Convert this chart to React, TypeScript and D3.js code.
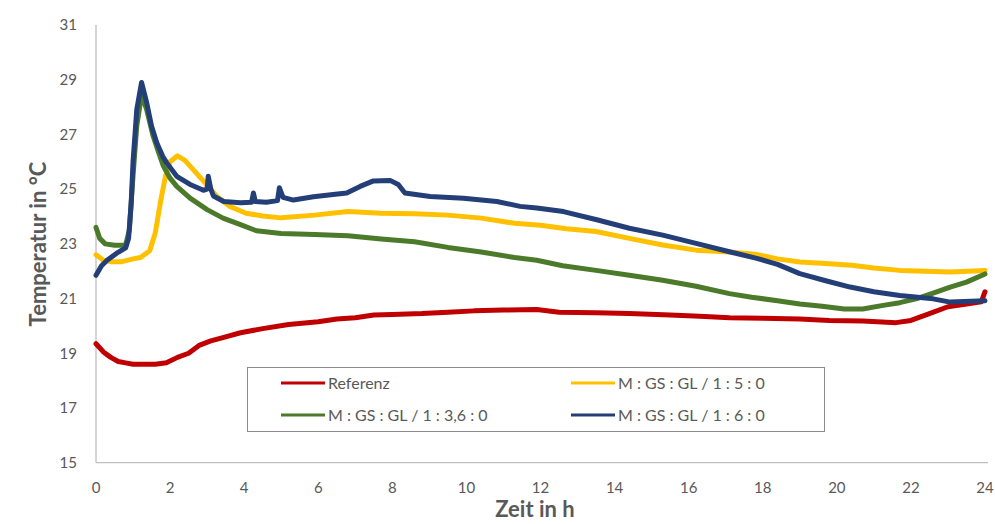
import React from "react";
import * as d3 from "d3";

const xTicks = [0, 2, 4, 6, 8, 10, 12, 14, 16, 18, 20, 22, 24];
const yTicks = [15, 17, 19, 21, 23, 25, 27, 29, 31];

const seriesNames = ["Referenz", "M : GS : GL / 1 : 5 : 0", "M : GS : GL / 1 : 3,6 : 0", "M : GS : GL / 1 : 6 : 0"];
const seriesColors = ["#C00000", "#FFC000", "#4B7A2A", "#243F77"];

const referenz: [number, number][] = [
  [0, 19.35], [0.2, 19.05], [0.4, 18.85], [0.6, 18.7], [0.8, 18.65], [1.0, 18.6], [1.3, 18.6], [1.6, 18.6],
  [1.9, 18.65], [2.2, 18.85], [2.5, 19.0], [2.8, 19.3], [3.1, 19.45], [3.5, 19.6], [3.9, 19.75], [4.5, 19.9],
  [5.2, 20.05], [6.0, 20.15], [6.5, 20.25], [7.0, 20.3], [7.5, 20.4], [8.0, 20.42], [8.8, 20.45], [9.5, 20.5],
  [10.2, 20.55], [11.0, 20.58], [11.9, 20.6], [12.5, 20.5], [13.5, 20.48], [14.4, 20.45], [15.5, 20.4],
  [16.3, 20.35], [17.1, 20.3], [18.0, 20.28], [19.0, 20.25], [19.8, 20.2], [20.7, 20.18], [21.6, 20.12],
  [22.0, 20.2], [22.5, 20.45], [23.0, 20.7], [23.5, 20.8], [23.9, 20.88], [24.0, 21.25],
];

const gs5: [number, number][] = [
  [0, 22.6], [0.2, 22.4], [0.4, 22.35], [0.7, 22.35], [1.0, 22.45], [1.2, 22.5], [1.45, 22.75], [1.6, 23.4],
  [1.75, 24.6], [1.88, 25.5], [2.0, 26.0], [2.2, 26.22], [2.4, 26.05], [2.6, 25.75], [2.8, 25.45], [3.0, 25.15],
  [3.25, 24.75], [3.6, 24.38], [4.05, 24.12], [4.5, 24.02], [5.0, 23.95], [5.9, 24.05], [6.8, 24.18], [7.7, 24.12],
  [8.6, 24.1], [9.5, 24.05], [10.4, 23.94], [11.3, 23.75], [12.0, 23.68], [12.7, 23.55], [13.5, 23.45], [14.4, 23.2],
  [15.3, 22.96], [16.2, 22.77], [17.1, 22.7], [17.8, 22.62], [18.4, 22.45], [19.0, 22.34], [19.7, 22.28],
  [20.4, 22.22], [21.0, 22.12], [21.7, 22.03], [22.4, 22.0], [23.06, 21.97], [24.0, 22.03],
];

const gs36: [number, number][] = [
  [0, 23.6], [0.1, 23.2], [0.25, 23.0], [0.5, 22.95], [0.8, 22.95], [0.9, 23.5], [1.0, 25.5], [1.1, 27.3],
  [1.23, 28.45], [1.37, 27.9], [1.54, 26.95], [1.7, 26.3], [1.82, 25.84], [2.0, 25.4], [2.18, 25.1], [2.54, 24.67],
  [3.0, 24.25], [3.43, 23.94], [3.9, 23.7], [4.33, 23.48], [5.0, 23.38], [5.9, 23.34], [6.8, 23.3], [7.7, 23.18],
  [8.6, 23.08], [9.5, 22.87], [10.4, 22.7], [11.3, 22.5], [11.9, 22.4], [12.6, 22.2], [13.5, 22.03], [14.4, 21.85],
  [15.3, 21.67], [16.2, 21.45], [17.1, 21.18], [17.7, 21.05], [18.4, 20.92], [19.0, 20.8], [19.6, 20.72],
  [20.2, 20.62], [20.7, 20.62], [21.25, 20.75], [21.7, 20.85], [22.16, 21.0], [22.6, 21.2], [23.06, 21.42],
  [23.5, 21.6], [24.0, 21.9],
];

const gs6: [number, number][] = [
  [0, 21.85], [0.15, 22.2], [0.3, 22.4], [0.55, 22.65], [0.8, 22.85], [0.88, 23.2], [0.95, 24.5], [1.0, 26.0],
  [1.1, 27.9], [1.23, 28.9], [1.37, 28.15], [1.5, 27.3], [1.64, 26.7], [1.8, 26.2], [1.91, 25.96], [2.18, 25.47],
  [2.54, 25.17], [2.9, 24.96], [3.0, 25.0], [3.03, 25.47], [3.1, 25.0], [3.17, 24.75], [3.45, 24.55], [3.9, 24.5],
  [4.2, 24.52], [4.25, 24.86], [4.3, 24.55], [4.6, 24.52], [4.9, 24.58], [4.95, 25.05], [5.05, 24.7], [5.33, 24.6],
  [5.87, 24.72], [6.4, 24.8], [6.77, 24.86], [7.13, 25.1], [7.49, 25.3], [7.94, 25.32], [8.16, 25.17], [8.34, 24.86],
  [9.02, 24.73], [9.92, 24.67], [10.82, 24.55], [11.45, 24.37], [11.9, 24.31], [12.62, 24.18], [13.52, 23.88],
  [14.4, 23.57], [15.3, 23.32], [16.2, 23.02], [17.1, 22.71], [17.84, 22.47], [18.4, 22.25], [19.0, 21.91],
  [19.7, 21.65], [20.36, 21.42], [21.0, 21.25], [21.7, 21.11], [22.6, 20.99], [23.06, 20.87], [24.0, 20.92],
];

const seriesData = [referenz, gs5, gs36, gs6];
const drawOrder = [0, 1, 2, 3];

const FONT = "Lato, 'Open Sans', sans-serif";

export default function App() {
  const x = d3.scaleLinear().domain([0, 24]).range([96, 985]);
  const y = d3.scaleLinear().domain([15, 31]).range([462.7, 25]);
  const line = d3
    .line<[number, number]>()
    .x((d) => x(d[0]))
    .y((d) => y(d[1]));

  const legendRows = [
    { idx: 0, lx: 281, ly: 383 },
    { idx: 1, lx: 571, ly: 383 },
    { idx: 2, lx: 281, ly: 415 },
    { idx: 3, lx: 571, ly: 415 },
  ];

  return (
    <svg
      width={995}
      height={524}
      style={{ position: "absolute", left: 0, top: 0, background: "#fff" }}
      fontFamily={FONT}
    >
      <rect x={0} y={0} width={995} height={524} fill="#fff" />
      <line x1={x(0)} x2={x(0)} y1={y(31)} y2={y(15)} stroke="#BFBFBF" strokeWidth={1.3} />
      <line x1={x(0)} x2={x(24) + 3} y1={y(15)} y2={y(15)} stroke="#BFBFBF" strokeWidth={1.3} />
      {yTicks.map((t) => (
        <text key={"y" + t} x={77} y={y(t)} dy="0.35em" textAnchor="end" fontSize={15} fill="#595959">
          {t}
        </text>
      ))}
      {xTicks.map((t) => (
        <text key={"x" + t} x={x(t)} y={493} textAnchor="middle" fontSize={15} fill="#595959">
          {t}
        </text>
      ))}
      {drawOrder.map((i) => (
        <path
          key={"s" + i}
          d={line(seriesData[i]) || ""}
          fill="none"
          stroke={seriesColors[i]}
          strokeWidth={5}
          strokeLinejoin="round"
          strokeLinecap="round"
        />
      ))}
      <rect x={247.5} y={367.5} width={577} height={64} fill="#fff" stroke="#8C8C8C" strokeWidth={1} />
      {legendRows.map((r) => (
        <g key={"l" + r.idx}>
          <line x1={r.lx} x2={r.lx + 44} y1={r.ly} y2={r.ly} stroke={seriesColors[r.idx]} strokeWidth={3} />
          <text x={r.lx + 47} y={r.ly} dy="0.35em" fontSize={16} fill="#595959">
            {seriesNames[r.idx]}
          </text>
        </g>
      ))}
      <text x={535} y={517} textAnchor="middle" fontSize={22} fontWeight="bold" fill="#595959">
        Zeit in h
      </text>
      <text
        transform={`translate(46, 244) rotate(-90)`}
        textAnchor="middle"
        fontSize={22}
        fontWeight="bold"
        fill="#595959"
      >
        Temperatur in °C
      </text>
    </svg>
  );
}
